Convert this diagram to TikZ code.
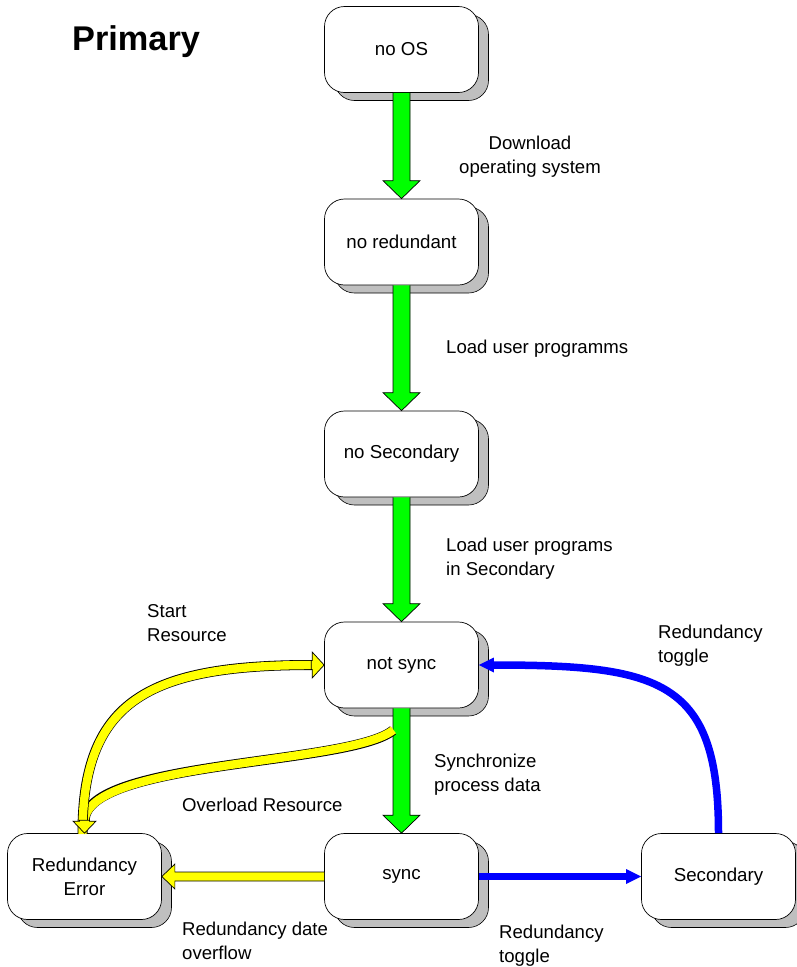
\documentclass[tikz,border=0pt]{standalone}
\usepackage{fontspec}
\setmainfont{Liberation Sans}
\usetikzlibrary{calc,shadows}
\definecolor{fgreen}{RGB}{0,255,0}
\definecolor{fyellow}{RGB}{255,255,0}
\definecolor{fblue}{RGB}{0,0,255}
\tikzset{
  statebox/.style={draw=black, line width=0.7pt, rounded corners=20pt, fill=white,
    minimum width=154pt, minimum height=86pt, align=center,
    font=\fontsize{18.7}{24}\selectfont,
    general shadow={shadow xshift=10pt, shadow yshift=-8pt, fill=gray!50, draw=black, line width=0.6pt}},
  lbl/.style={inner sep=0pt, align=left, anchor=north west, font=\fontsize{18.6}{24}\selectfont},
  fatoutline/.style={draw=black, line width=0.7pt, line join=miter},
}
% vertical green fat arrow from bottom of #1 to top of #2
\newcommand\greenarrow[2]{%
  \filldraw[fatoutline, fill=fgreen]
    ($(#1.south)+(-8.5,0)$) -- ($(#2.north)+(-8.5,18)$) -- ($(#2.north)+(-18.5,18)$) --
    (#2.north) -- ($(#2.north)+(18.5,18)$) -- ($(#2.north)+(8.5,18)$) -- ($(#1.south)+(8.5,0)$);}
\begin{document}
\begin{tikzpicture}[x=1pt, y=1pt]
\useasboundingbox (0,0) rectangle (797,-967);

% title
\node[inner sep=0pt, anchor=north west, font=\fontsize{34.3}{40}\selectfont\bfseries] (title) at (72,-25) {Primary};

% states
\node[statebox] (noos)    at (401.5,-49.5)  {no OS};
\node[statebox] (nored)   at (401.5,-242)   {no redundant};
\node[statebox] (nosec)   at (401.5,-454)   {no Secondary};
\node[statebox] (notsync) at (401.5,-665)   {not sync};
\node[statebox] (sync)    at (401.5,-876.5) {sync};
\node[statebox] (err)     at (84.5,-876.5)  {Redundancy\\Error};
\node[statebox] (sec)     at (718.5,-876.5) {Secondary};

% green arrows
\greenarrow{noos}{nored}
\greenarrow{nored}{nosec}
\greenarrow{nosec}{notsync}
\greenarrow{notsync}{sync}

% yellow: Overload Resource (not sync -> Redundancy Error)
\coordinate (ovst) at ($(notsync.south)+(-8.5,-22)$);
\draw[black, line width=10pt] (ovst) .. controls ($(ovst)+(-43,-35)$) and ($(err.north)+(0,73)$) .. ($(err.north)+(0,12)$);
\draw[fyellow, line width=8.4pt] ($(ovst)+(0.4,0.5)$) .. controls ($(ovst)+(-43,-35)$) and ($(err.north)+(0,73)$) .. ($(err.north)+(0,11)$);
% yellow: Start Resource (Redundancy Error -> not sync)
\draw[black, line width=10pt] ($(err.north)+(-2,0)$) .. controls ($(err.north)+(-2,133)$) and ($(notsync.west)+(-175,0)$) .. ($(notsync.west)+(-12,0)$);
\draw[fyellow, line width=8.4pt] ($(err.north)+(-2,-1)$) .. controls ($(err.north)+(-2,133)$) and ($(notsync.west)+(-175,0)$) .. ($(notsync.west)+(-11,0)$);
% heads of curved yellow arrows
\filldraw[fatoutline, fill=fyellow] (err.north) -- ++(-11.5,12) -- ++(6.5,0) -- ++(0,1) -- ++(10,0) -- ++(0,-1) -- ++(6.5,0) -- cycle;
\filldraw[fatoutline, fill=fyellow] (notsync.west) -- ++(-12,13) -- ++(0,-8.5) -- ++(-1,0) -- ++(0,-9) -- ++(1,0) -- ++(0,-8.5) -- cycle;
% yellow straight: sync -> Redundancy Error
\filldraw[fatoutline, fill=fyellow]
  ($(sync.west)+(0,4.5)$) -- ($(err.east)+(13,4.5)$) -- ($(err.east)+(13,12.5)$) -- (err.east) --
  ($(err.east)+(13,-12.5)$) -- ($(err.east)+(13,-4.5)$) -- ($(sync.west)+(0,-4.5)$);

% blue: sync -> Secondary
\draw[fblue, line width=7.5pt] (sync.east) -- ($(sec.west)+(-14,0)$);
\fill[fblue] (sec.west) -- ++(-15,7.5) -- ++(0,-15) -- cycle;
% blue: Secondary -> not sync
\draw[fblue, line width=7.5pt] (sec.north) .. controls ($(sec.north)+(0,153)$) and ($(notsync.east)+(182,0)$) .. ($(notsync.east)+(14,0)$);
\fill[fblue] (notsync.east) -- ++(15,7.5) -- ++(0,-15) -- cycle;

% labels
\node[inner sep=0pt, anchor=north, align=center, font=\fontsize{18.6}{24}\selectfont] (l1) at (530,-135.5) {Download\\operating system};
\node[lbl] (l2) at (446,-340) {Load user programms};
\node[lbl] (l3) at (446,-538) {Load user programs\\in Secondary};
\node[lbl] (l4) at (147,-604) {Start\\Resource};
\node[lbl] (l5) at (658,-625) {Redundancy\\toggle};
\node[lbl] (l6) at (434,-754) {Synchronize\\process data};
\node[lbl] (l7) at (182,-798) {Overload Resource};
\node[lbl] (l8) at (182,-922) {Redundancy date\\overflow};
\node[lbl] (l9) at (499,-925) {Redundancy\\toggle};
\end{tikzpicture}
\end{document}
